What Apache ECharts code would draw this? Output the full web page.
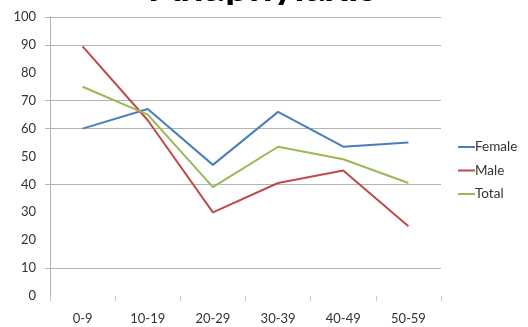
<!DOCTYPE html>
<html>
<head>
<meta charset="utf-8">
<style>
  html, body { margin: 0; padding: 0; background: #fff; }
  #chart { width: 528px; height: 327px; }
</style>
<script src="https://cdn.jsdelivr.net/npm/echarts@6/dist/echarts.min.js"></script>
</head>
<body>
<div id="chart"></div>
<script>
// Age groups along the horizontal axis
const ageGroups = ['0-9', '10-19', '20-29', '30-39', '40-49', '50-59'];

// Percentages per age group
const female = [60, 67, 47, 66, 53.5, 55];
const male = [89.5, 63, 30, 40.5, 45, 25];
const total = [75, 65, 39, 53.5, 49, 40.5];

const titleText = 'Anaphylaxis';
// Horizontal rules (and their ticks) that are drawn
const gridValues = [10, 40, 60, 70, 90, 100];

const FONT = 'Lato, "Liberation Sans", sans-serif';
const GRID_COLOR = '#b4b4b4';
const chart = echarts.init(document.getElementById('chart'), null, { renderer: 'canvas' });

const line = (name, data, color) => ({
  name, type: 'line', data,
  showSymbol: false, symbol: 'none',
  lineStyle: { color, width: 2 },
  itemStyle: { color },
  emphasis: { disabled: true },
  animation: false
});

chart.setOption({
  animation: false,
  backgroundColor: '#fff',
  textStyle: { fontFamily: FONT },
  graphic: [
    {
      type: 'text', left: 'center', top: -34, z: 10,
      style: { text: titleText, font: 'bold 42px ' + FONT, fill: '#000' }
    },
    {
      type: 'rect', z: 11, silent: true,
      shape: { x: 110, y: 5, width: 290, height: 10 },
      style: { fill: '#fff' }
    }
  ],
  grid: { left: 50, right: 87, top: 17, bottom: 31, containLabel: false },
  legend: {
    orient: 'vertical', left: 458, top: 139, padding: 0,
    itemWidth: 17, itemHeight: 2, itemGap: 7.5,
    icon: 'rect',
    textStyle: { fontSize: 13.5, color: '#333', lineHeight: 16, padding: [0, 0, 0, -5], fontFamily: FONT },
    data: ['Female', 'Male', 'Total']
  },
  xAxis: {
    type: 'category', data: ageGroups, boundaryGap: true,
    axisLine: { show: false },
    axisTick: {
      show: true, length: 5, inside: false,
      lineStyle: { color: '#c8c8c8', width: 1 }
    },
    axisLabel: { margin: 16, fontSize: 13, color: '#333', fontFamily: FONT },
    splitLine: { show: false }
  },
  yAxis: {
    type: 'value', min: 0, max: 100, interval: 10,
    axisLine: { show: true, lineStyle: { color: GRID_COLOR, width: 1 } },
    axisTick: { show: true, length: 5, customValues: gridValues, lineStyle: { color: GRID_COLOR } },
    axisLabel: { margin: 14, fontSize: 13, color: '#333', fontFamily: FONT },
    splitLine: { show: true, lineStyle: { color: GRID_COLOR, width: 1 } }
  },
  series: [
    line('Female', female, '#4a7ebb'),
    line('Male', male, '#be4b48'),
    line('Total', total, '#98b954')
  ]
});
</script>
</body>
</html>
